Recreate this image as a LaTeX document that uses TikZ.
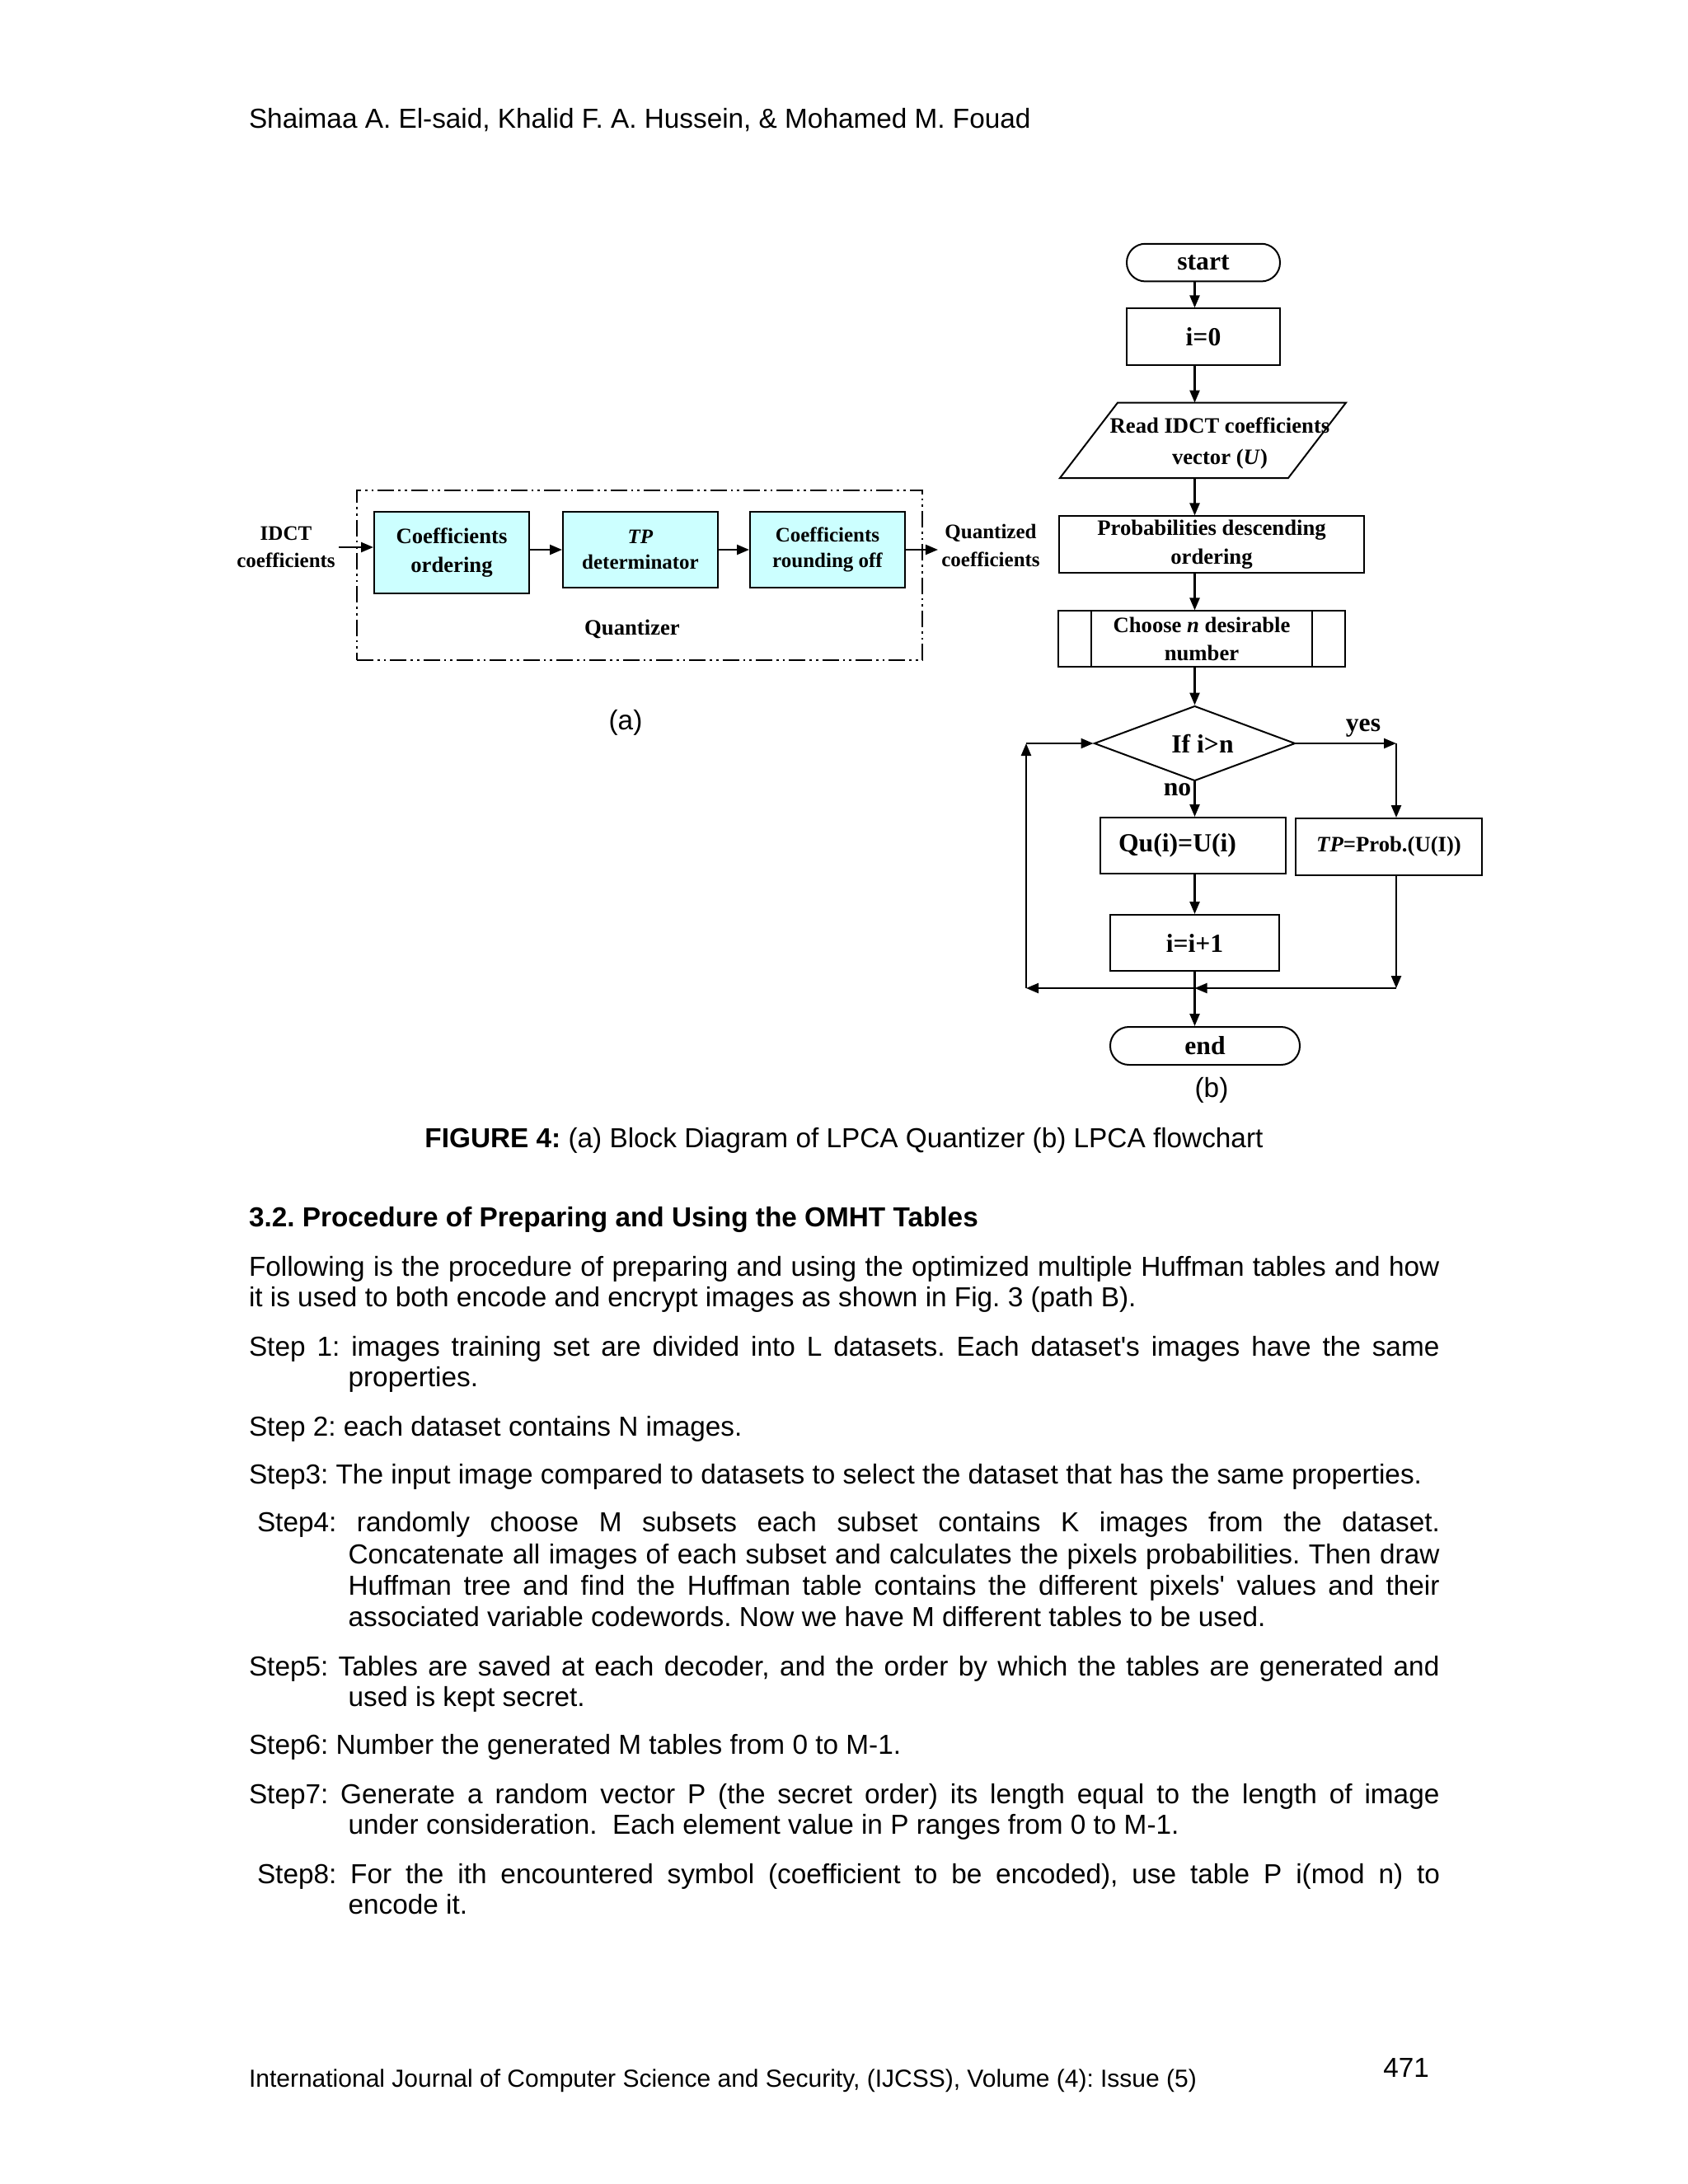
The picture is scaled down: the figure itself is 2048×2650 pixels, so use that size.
\documentclass[tikz,border=0pt]{standalone}
\usepackage{fontspec}
\setmainfont{Liberation Serif}
\newfontfamily\arialfont{Liberation Sans}
\usepackage{tikz}
\usetikzlibrary{positioning, arrows.meta, shapes.geometric, calc}
\definecolor{boxcyan}{HTML}{CCFFFF}

\begin{document}
\frenchspacing
\begin{tikzpicture}[x=0.010542cm, y=-0.010542cm, line width=0.6pt,
  arr/.style={-{Triangle[length=4.5pt, width=3.6pt]}, line width=0.7pt},
  blk/.style={draw, fill=boxcyan, inner sep=0pt, minimum width=1.982cm, minimum height=0.970cm, align=center, font=\fontsize{7.5}{9.2}\selectfont\bfseries},
  flow/.style={draw, inner sep=0pt, align=center, font=\fontsize{9.5}{11}\selectfont\bfseries},
  fsmall/.style={flow, font=\fontsize{8}{10}\selectfont\bfseries},
  txt/.style={anchor=base west, inner sep=0pt, font=\arialfont\fontsize{10}{11.5}\selectfont}]
  \useasboundingbox (0,0) rectangle (2048,2650);
  \fill[white] (0,0) rectangle (2048,2650);

  % block diagram (a)
  \node[draw, dash pattern=on 6pt off 1.5pt on 0.8pt off 1.5pt on 0.8pt off 1.5pt, line width=0.5pt, minimum width=7.232cm, minimum height=2.172cm, inner sep=0pt] (quant) at (776,698) {};
  \node[blk, minimum height=1.044cm, font=\fontsize{8}{10.5}\selectfont\bfseries] (order) at (548,670.5) {Coefficients\\ordering};
  \node[blk] (tpdet) at (777,667) {\textit{TP}\\determinator};
  \node[blk] (round) at (1004,667) {Coefficients\\rounding off};
  \node[font=\fontsize{8}{10}\selectfont\bfseries] (qlabel) at (767,763) {Quantizer};
  \node[align=center, inner sep=1pt, font=\fontsize{7.5}{9.8}\selectfont\bfseries] (idct) at (347,664) {IDCT\\coefficients};
  \node[align=center, inner sep=1pt, font=\fontsize{7.5}{10}\selectfont\bfseries] (qout) at (1202,662) {Quantized\\coefficients};
  \draw[arr] (idct.east) -- (idct.east -| order.west);
  \draw[arr] (order.east |- tpdet.west) -- (tpdet.west);
  \draw[arr] (tpdet.east) -- (round.west);
  \draw[arr] (round.east) -- (round.east -| qout.west);
  \node[txt, anchor=center] (capa) at (759,877) {(a)};

  % flowchart (b)
  \node[flow, rounded corners=0.24cm, minimum width=1.961cm, minimum height=0.482cm] (start) at (1460,318.6) {start};
  \node[flow, minimum width=1.961cm, minimum height=0.726cm] (init) at (1460,408.8) {i=0};
  \draw (1286,580) -- (1356,488.6) -- (1633,488.6) -- (1563,580) -- cycle;
  \node[align=center, inner sep=0pt, font=\fontsize{8}{11.2}\selectfont\bfseries] (read) at (1480,538) {Read IDCT coefficients\\vector (\textit{U})};
  \coordinate (readtop) at (1449.5,488.6);
  \coordinate (readbot) at (1449.5,580);
  \node[fsmall, minimum width=3.901cm, minimum height=0.723cm] (prob) at (1470,660.7) {\raisebox{-5.5pt}{\shortstack{Probabilities descending\\[0pt]ordering}}};
  \node[fsmall, minimum width=3.669cm, minimum height=0.716cm] (choose) at (1458,775.4) {Choose \textit{n} desirable\\number};
  \draw ([xshift=0.432cm]choose.north west) -- ([xshift=0.432cm]choose.south west);
  \draw ([xshift=-0.432cm]choose.north east) -- ([xshift=-0.432cm]choose.south east);
  \node[flow, diamond, aspect=2.68, minimum width=2.572cm, minimum height=0.959cm] (test) at (1449.5,902) {\hspace{0.2cm}If i>n};
  \node[flow, minimum width=2.372cm, minimum height=0.717cm] (qu) at (1447.5,1026) {Qu(i)=U(i)\hspace{0.4cm}};
  \node[fsmall, minimum width=2.383cm, minimum height=0.727cm] (tp) at (1685,1027.5) {\textit{TP}=Prob.(U(I))};
  \node[flow, minimum width=2.161cm, minimum height=0.717cm] (inc) at (1449.5,1144) {i=i+1};
  \node[flow, rounded corners=0.24cm, minimum width=2.425cm, minimum height=0.485cm] (stop) at (1462,1269) {\raisebox{-2pt}{end}};
  \node[font=\fontsize{9.5}{11}\selectfont\bfseries] (yes) at (1654,883) {yes};
  \node[font=\fontsize{9.5}{11}\selectfont\bfseries] (no) at (1428.5,958) {no};
  \coordinate (yesc) at (1694,902);
  \coordinate (joint) at (1449.5,1199);
  \coordinate (loop) at (1245,1199);
  % connections
  \draw[arr] (start.south -| test.north) -- (init.north -| test.north);
  \draw[arr] (init.south -| test.north) -- (readtop);
  \draw[arr] (readbot) -- (prob.north -| test.north);
  \draw[arr] (prob.south -| test.north) -- (choose.north -| test.north);
  \draw[arr] (choose.south -| test.north) -- (test.north);
  \draw[arr] (test.east) -- (yesc);
  \draw[arr] (yesc) -- (yesc |- tp.north);
  \draw[arr] (test.south) -- (qu.north -| test.south);
  \draw[arr] (qu.south -| test.south) -- (inc.north -| test.south);
  \draw[arr] (inc.south) -- (stop.north -| inc.south);
  \draw[arr] (tp.south -| yesc) -- (yesc |- joint);
  \draw[arr] (yesc |- joint) -- (joint);
  \draw[arr] (joint) -- (loop);
  \draw[arr] (loop) -- (loop |- test);
  \draw[arr] (loop |- test) -- (test.west);
  \node[txt, anchor=center] (capb) at (1470,1323) {(b)};

  % page text
  \node[txt] (head) at (301,155) {Shaimaa A. El-said, Khalid F. A. Hussein, \& Mohamed M. Fouad};
  \node[txt, anchor=base] (caption) at (1024,1392) {\textbf{FIGURE 4:} (a) Block Diagram of LPCA Quantizer (b) LPCA flowchart};
  \node[txt] (sect) at (301,1488) {\textbf{3.2. Procedure of Preparing and Using the OMHT Tables}};
  % justified lines
  \foreach \i/\xx/\yy/\ww/\txt in {
    1/301/1548/15.23/{Following is the procedure of preparing and using the optimized multiple Huffman tables and how},
    2/301/1645/15.23/{Step 1: images training set are divided into L datasets. Each dataset's images have the same},
    3/311/1858/15.13/{Step4: randomly choose M subsets each subset contains K images from the dataset.},
    4/421.6/1897/13.96/{Concatenate all images of each subset and calculates the pixels probabilities. Then draw},
    5/421.6/1935/13.96/{Huffman tree and find the Huffman table contains the different pixels' values and their},
    6/301/2033/15.23/{Step5: Tables are saved at each decoder, and the order by which the tables are generated and},
    7/301/2188/15.23/{Step7: Generate a random vector P (the secret order) its length equal to the length of image},
    8/311/2285/15.13/{Step8: For the ith encountered symbol (coefficient to be encoded), use table P i(mod n) to}} {
    \node[txt] (jus-\i) at (\xx,\yy) {\makebox[\ww cm][s]{\txt}};
  }
  % ragged lines
  \foreach \i/\xx/\yy/\txt in {
    1/301/1585/{it is used to both encode and encrypt images as shown in Fig. 3 (path B).},
    2/421.6/1682/{properties.},
    3/301/1742/{Step 2: each dataset contains N images.},
    4/301/1800/{Step3: The input image compared to datasets to select the dataset that has the same properties.},
    5/421.6/1973/{associated variable codewords. Now we have M different tables to be used.},
    6/421.6/2070/{used is kept secret.},
    7/301/2128/{Step6: Number the generated M tables from 0 to M-1.},
    8/421.6/2225/{under consideration.\ \ Each element value in P ranges from 0 to M-1.},
    9/421.6/2322/{encode it.}} {
    \node[txt] (line-\i) at (\xx,\yy) {\txt};
  }
  \node[txt, font=\arialfont\fontsize{9}{11}\selectfont] (foot) at (301,2532) {International Journal of Computer Science and Security, (IJCSS), Volume (4): Issue (5)};
  \node[txt, anchor=base east] (page) at (1735,2520) {471};
\end{tikzpicture}
\end{document}
